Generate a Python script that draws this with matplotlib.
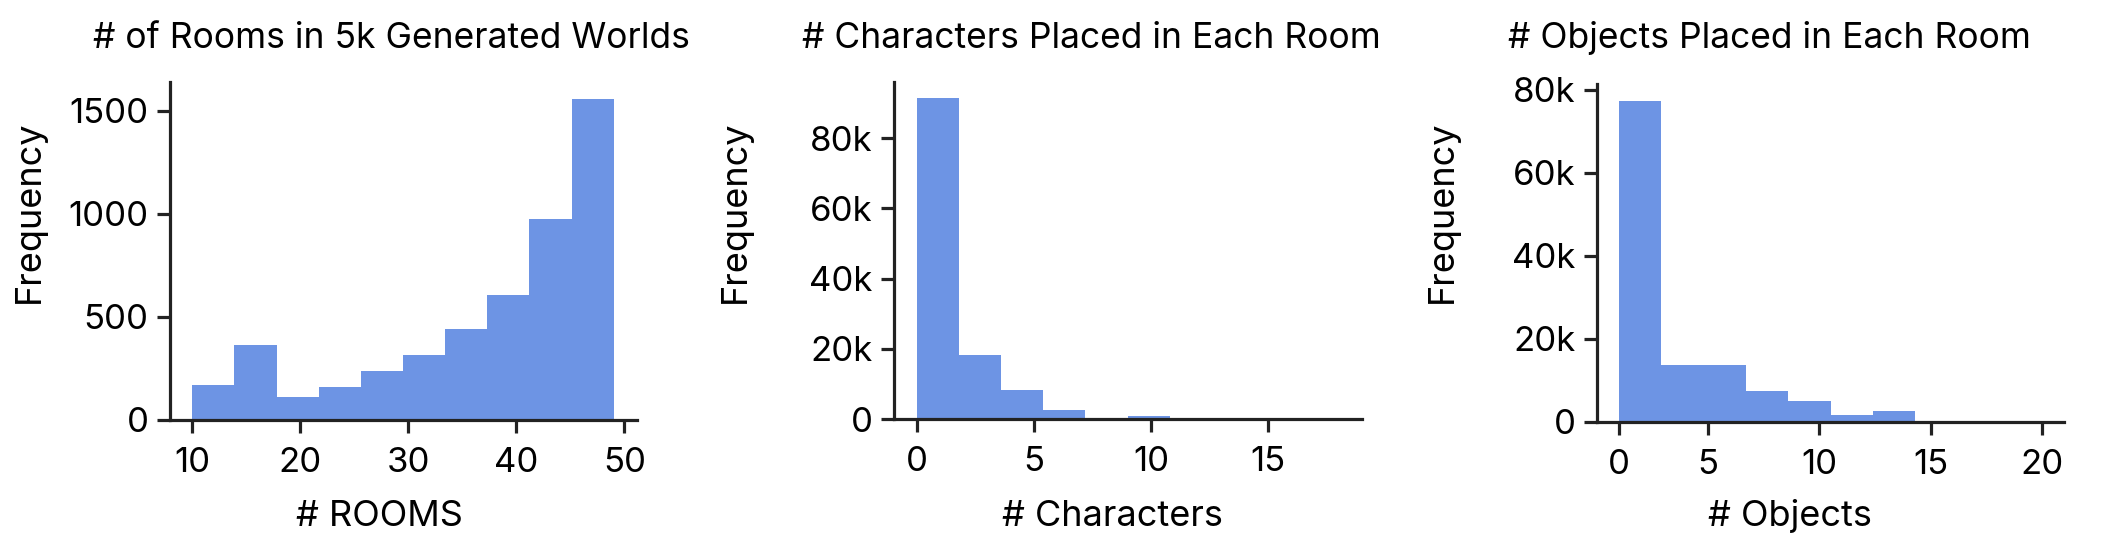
import matplotlib
matplotlib.use("Agg")
import matplotlib.pyplot as plt
import numpy as np

plt.rcParams['font.family'] = ['Inter', 'DejaVu Sans']

# ---- data ----
rooms_edges = [10 + 3.9 * i for i in range(11)]
rooms_counts = [170, 364, 110, 160, 238, 315, 443, 606, 975, 1557]

char_edges = [1.8 * i for i in range(11)]
char_counts = [91400, 18100, 8400, 2700, 120, 950, 40, 20, 10, 10]

obj_edges = [1 + 1.9 * i for i in range(11)]
obj_counts = [77300, 13700, 13700, 7500, 5100, 1800, 2600, 60, 30, 10]

titles = ["# of Rooms in 5k Generated Worlds",
          "# Characters Placed in Each Room",
          "# Objects Placed in Each Room"]
xlabels = ["# ROOMS", "# Characters", "# Objects"]
ylabel = "Frequency"

rooms_xticks = [10, 20, 30, 40, 50]
rooms_yticks = [0, 500, 1000, 1500]
char_xticks = [0, 5, 10, 15]
char_yticks = [0, 20000, 40000, 60000, 80000]
obj_xtick_pos = [1, 5, 10, 15, 20]
obj_xtick_lab = ["0", "5", "10", "15", "20"]
obj_yticks = [0, 20000, 40000, 60000, 80000]
k_labels = ["0", "20k", "40k", "60k", "80k"]

BAR = "#6d94e4"
SPINE = "#222222"
W, H = 2102, 542

fig = plt.figure(figsize=(W / 100, H / 100), dpi=100)


def add_ax(l, r, b, t):
    return fig.add_axes([l / W, 1 - b / H, (r - l) / W, (b - t) / H])


ax1 = add_ax(170, 637, 420, 82)
ax2 = add_ax(894, 1362, 419, 82)
ax3 = add_ax(1597, 2064, 422, 84)


def hist(ax, edges, counts):
    edges = np.array(edges)
    ax.bar(edges[:-1], counts, width=np.diff(edges), align='edge',
           color=BAR, linewidth=0)


hist(ax1, rooms_edges, rooms_counts)
hist(ax2, char_edges, char_counts)
hist(ax3, obj_edges, obj_counts)

ax1.set_xlim(7.94, 51.16); ax1.set_ylim(0, 1639)
ax2.set_xlim(-0.97, 19.0); ax2.set_ylim(0, 96000)
ax3.set_xlim(0.0, 21.0); ax3.set_ylim(0, 81400)

ax1.set_xticks(rooms_xticks); ax1.set_yticks(rooms_yticks)
ax2.set_xticks(char_xticks); ax2.set_yticks(char_yticks, labels=k_labels)
ax3.set_xticks(obj_xtick_pos, labels=obj_xtick_lab)
ax3.set_yticks(obj_yticks, labels=k_labels)

for ax in (ax1, ax2, ax3):
    ax.set_facecolor('none')
    for s in ('top', 'right'):
        ax.spines[s].set_visible(False)
    for s in ('left', 'bottom'):
        ax.spines[s].set_color(SPINE)
        ax.spines[s].set_linewidth(2.3)
    ax.tick_params(axis='x', length=9.5, width=2.3, color=SPINE, pad=10,
                   labelsize=25, labelcolor='black')
    ax.tick_params(axis='y', length=9.5, width=2.3, color=SPINE, pad=6,
                   labelsize=25, labelcolor='black')

title_x = [391, 1091, 1769]
xlabel_x = [379, 1112, 1790]
ylabel_x = [29, 735, 1442]
for i in range(3):
    fig.text(title_x[i] / W, 1 - 48 / H, titles[i], ha='center',
             va='baseline', fontsize=25.5)
    fig.text(xlabel_x[i] / W, 1 - 526 / H, xlabels[i], ha='center',
             va='baseline', fontsize=26)
    fig.text(ylabel_x[i] / W, 1 - 212 / H, ylabel, ha='center',
             va='center', rotation=90, fontsize=26)

fig.savefig("out.png", dpi=100, facecolor='white')
